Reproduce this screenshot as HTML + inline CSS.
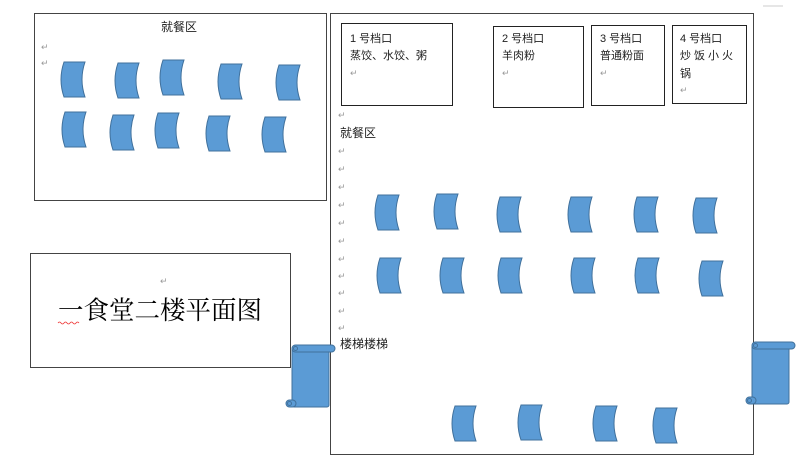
<!DOCTYPE html>
<html><head><meta charset="utf-8"><style>
html,body{margin:0;padding:0;background:#fff;}
svg{display:block;}
text{font-family:"Liberation Sans","Noto Sans CJK SC",sans-serif;fill:#222;}
.r{font-size:9px;fill:#999;}
</style></head><body>
<svg width="803" height="462" viewBox="0 0 803 462" xmlns="http://www.w3.org/2000/svg">
<defs>
<path id="ch" d="M3,0 L24,0 Q18,17.5 24,35 L3,35 Q-3,17.5 3,0 Z" fill="#5b9bd5" stroke="#41719c" stroke-width="1"/>
<g id="sc">
<rect x="4" y="3" width="37" height="59" rx="2" fill="#5b9bd5" stroke="#41719c"/>
<rect x="4" y="0" width="43" height="7" rx="3.5" fill="#5b9bd5" stroke="#41719c"/>
<circle cx="7.5" cy="3.5" r="2" fill="#5b9bd5" stroke="#41719c"/>
<rect x="-2" y="55" width="10" height="7" rx="3.5" fill="#5b9bd5" stroke="#41719c"/>
<circle cx="1.5" cy="58.5" r="2" fill="#5b9bd5" stroke="#41719c"/>
</g>
</defs>
<line x1="763" y1="6" x2="783" y2="6" stroke="#ccc"/>
<rect x="34.5" y="13.5" width="292" height="187" fill="#fff" stroke="#444"/>
<text x="161" y="31" font-size="12">就餐区</text>
<text class="r" x="41" y="50">↵</text><text class="r" x="41" y="66">↵</text>
<g>
<use href="#ch" x="61" y="62"/><use href="#ch" x="115" y="63"/><use href="#ch" x="160" y="60"/><use href="#ch" x="218" y="64"/><use href="#ch" x="276" y="65"/>
<use href="#ch" x="62" y="112"/><use href="#ch" x="110" y="115"/><use href="#ch" x="155" y="113"/><use href="#ch" x="206" y="116"/><use href="#ch" x="262" y="117"/>
</g>
<rect x="30.5" y="253.5" width="260" height="114" fill="#fff" stroke="#444"/>
<text class="r" x="160" y="284">↵</text>
<text x="58" y="319" font-size="25.5" style="font-family:'Liberation Serif','Noto Serif CJK SC',serif;fill:#000">一食堂二楼平面图</text>
<path d="M58,323 q1.5,-2 3,0 t3,0 t3,0 t3,0 t3,0 t3,0 t3,0" stroke="#e33" fill="none" stroke-width="0.8"/>
<rect x="330.5" y="13.5" width="423" height="441" fill="#fff" stroke="#444"/>
<rect x="341.5" y="23.5" width="111" height="82" fill="#fff" stroke="#222"/>
<text x="350" y="42" font-size="11">1 号档口</text><text x="350" y="59" font-size="11">蒸饺、水饺、粥</text><text class="r" x="350" y="76">↵</text>
<rect x="493.5" y="26.5" width="90" height="81" fill="#fff" stroke="#222"/>
<text x="502" y="42" font-size="11">2 号档口</text><text x="502" y="59" font-size="11">羊肉粉</text><text class="r" x="502" y="76">↵</text>
<rect x="591.5" y="25.5" width="73" height="80" fill="#fff" stroke="#222"/>
<text x="600" y="42" font-size="11">3 号档口</text><text x="600" y="59" font-size="11">普通粉面</text><text class="r" x="600" y="76">↵</text>
<rect x="672.5" y="25.5" width="74" height="78" fill="#fff" stroke="#222"/>
<text x="680" y="42" font-size="11">4 号档口</text><text x="680" y="59" font-size="11" letter-spacing="3">炒饭小火</text><text x="680" y="77" font-size="11">锅</text><text class="r" x="680" y="93">↵</text>
<text class="r" x="338" y="118">↵</text>
<text x="340" y="137" font-size="12">就餐区</text>
<text class="r" x="338" y="154">↵</text><text class="r" x="338" y="172">↵</text><text class="r" x="338" y="190">↵</text><text class="r" x="338" y="208">↵</text><text class="r" x="338" y="226">↵</text><text class="r" x="338" y="244">↵</text><text class="r" x="338" y="262">↵</text><text class="r" x="338" y="279">↵</text><text class="r" x="338" y="296">↵</text><text class="r" x="338" y="314">↵</text><text class="r" x="338" y="331">↵</text>
<text x="340" y="348" font-size="12">楼梯楼梯</text>
<use href="#ch" x="375" y="195"/><use href="#ch" x="434" y="194"/><use href="#ch" x="497" y="197"/><use href="#ch" x="568" y="197"/><use href="#ch" x="634" y="197"/><use href="#ch" x="693" y="198"/>
<use href="#ch" x="377" y="258"/><use href="#ch" x="440" y="258"/><use href="#ch" x="498" y="258"/><use href="#ch" x="571" y="258"/><use href="#ch" x="635" y="258"/><use href="#ch" x="699" y="261"/>
<use href="#ch" x="452" y="406"/><use href="#ch" x="518" y="405"/><use href="#ch" x="593" y="406"/><use href="#ch" x="653" y="408"/>
<use href="#sc" x="288" y="345"/>
<use href="#sc" x="748" y="342"/>
</svg>
</body></html>
